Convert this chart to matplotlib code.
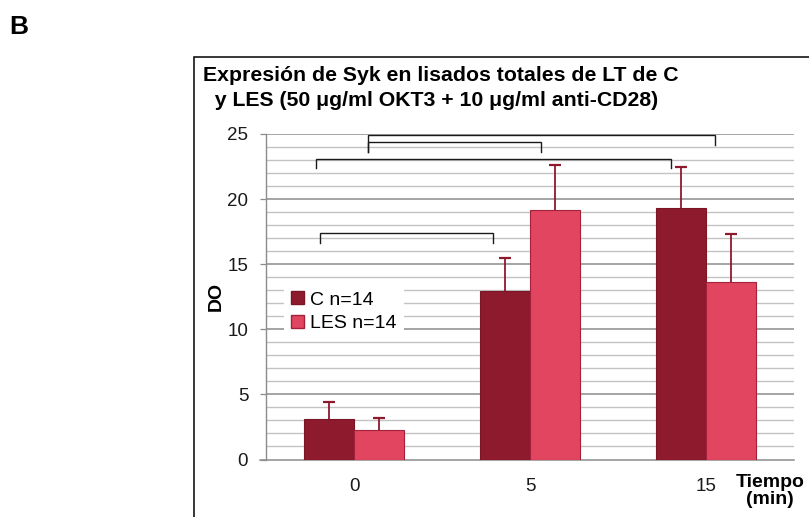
import matplotlib
matplotlib.use("Agg")
import matplotlib.pyplot as plt
from matplotlib.patches import Rectangle, Patch
import numpy as np

plt.rcParams['font.family'] = ['Liberation Sans', 'DejaVu Sans']

# datos
tiempos = ['0', '5', '15']
c_media = [3.1, 12.95, 19.3]
c_error = [1.35, 2.55, 3.2]
les_media = [2.3, 19.15, 13.6]
les_error = [0.85, 3.45, 3.75]
series = ['C n=14', 'LES n=14']

# corchetes de significancia: (x izq, x der, altura, fin tick izq, fin tick der)
corchetes = [
    (0.078, 2.051, 24.94, 23.6, 24.19),
    (0.078, 1.061, 24.37, 23.6, 23.63),
    (-0.216, 1.799, 23.09, 22.38, 22.38),
    (-0.195, 0.790, 17.37, 16.63, 16.63),
]

color_c = '#8E1A2E'
color_les = '#E14560'

fig = plt.figure(figsize=(8.09, 5.17), dpi=100)
ax = fig.add_axes([266 / 809, 1 - 459.5 / 517, (794 - 266) / 809, (459.5 - 134) / 517])

x = np.arange(len(tiempos))
ancho = 1 / 3.5
ax.bar(x - ancho / 2, c_media, ancho, color=color_c, edgecolor='#7A1526', linewidth=0.8, zorder=3)
ax.bar(x + ancho / 2, les_media, ancho, color=color_les, edgecolor='#A3223B', linewidth=0.8, zorder=3)
for pos, media, err in [(x - ancho / 2, c_media, c_error), (x + ancho / 2, les_media, les_error)]:
    eb = ax.errorbar(pos, media, yerr=[np.zeros(3), err], fmt='none',
                     ecolor='#8E1A2E', elinewidth=1.3, capsize=4.3, capthick=1.6, zorder=4)
    # solo la barra de error superior
    eb[1][0].set_visible(False)

for x0, x1, h, t0, t1 in corchetes:
    ax.plot([x0, x0, x1, x1], [t0, h, h, t1], color='#1a1a1a', lw=1.0,
            zorder=5, clip_on=False, solid_joinstyle='miter')

ax.set_xlim(-0.5, 2.5)
ax.set_ylim(0, 25)

# rejilla
for v in range(1, 26):
    if v % 5 == 0:
        ax.axhline(v, color='#8C8C8C', lw=1.1, zorder=1)
    else:
        ax.axhline(v, color='#C3C3C3', lw=1.0, zorder=1)

ax.set_yticks(range(0, 26, 5))
ax.tick_params(axis='y', length=4.3, width=0.9, color='#8C8C8C', pad=8.5,
               labelsize=13.5, labelcolor='#1a1a1a')
ax.set_xticks(x)
ax.set_xticklabels(tiempos)
ax.tick_params(axis='x', length=0, pad=13, labelsize=13.5, labelcolor='#1a1a1a')

for s in ['top', 'right']:
    ax.spines[s].set_visible(False)
ax.spines['left'].set_color('#8C8C8C')
ax.spines['bottom'].set_color('#8C8C8C')
ax.spines['left'].set_linewidth(1.0)
ax.spines['bottom'].set_linewidth(1.1)
ax.spines['bottom'].set_bounds(-0.535, 2.5)

ax.set_ylabel('DO', fontsize=14, fontweight='bold', labelpad=2)

handles = [Patch(facecolor=color_c, edgecolor='#7A1526'),
           Patch(facecolor=color_les, edgecolor='#A3223B')]
leg = ax.legend(handles, series, loc='upper left', bbox_to_anchor=(0.015, 0.57),
                fontsize=14, frameon=True, fancybox=False, handlelength=0.65,
                handleheight=0.65, handletextpad=0.3, labelspacing=0.3, borderpad=0.4)
leg.get_frame().set_edgecolor('none')
leg.get_frame().set_facecolor('white')
leg.get_frame().set_alpha(1)
leg.set_zorder(6)

fig.text(203 / 809, 1 - 81 / 517, 'Expresión de Syk en lisados totales de LT de C',
         fontsize=15.3, fontweight='bold', ha='left', va='baseline')
fig.text(203 / 809, 1 - 106 / 517, '  y LES (50 μg/ml OKT3 + 10 μg/ml anti-CD28)',
         fontsize=15.3, fontweight='bold', ha='left', va='baseline')
fig.text(770 / 809, 1 - 491 / 517, 'Tiempo\n(min)', fontsize=14, fontweight='bold',
         ha='center', va='center', linespacing=1.05)
fig.text(9 / 809, 1 - 34 / 517, 'B', fontsize=19, fontweight='bold', ha='left', va='baseline')

fig.patches.append(Rectangle((193.7 / 809, -0.1), 1.0, 1 - 56.7 / 517 + 0.1,
                             transform=fig.transFigure, fill=False, edgecolor='black',
                             linewidth=1.1))

fig.savefig('out.png', dpi=100)
